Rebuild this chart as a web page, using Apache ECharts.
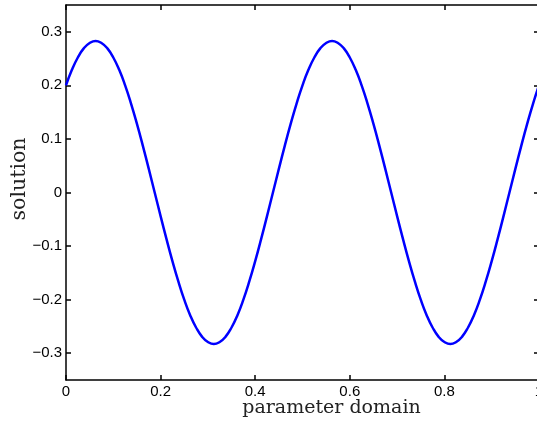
<!DOCTYPE html>
<html lang="en">
<head>
    <meta charset="UTF-8">
    <title>solution</title>
    <style>
        html, body { margin: 0; padding: 0; background: #fff; }
    </style>
</head>
<body>
<script src="https://cdn.jsdelivr.net/npm/echarts@6/dist/echarts.min.js"></script>

<div id="main" style="width: 537px;height:421px;"></div>

<script type="text/javascript">
    // points (x step 0.0125)
    var xs = [];
    for (var i = 0; i <= 80; i++) xs.push(+(i * 0.0125).toFixed(4));
    var ys = [
        0.200, 0.229, 0.252, 0.269, 0.279, 0.283, 0.279, 0.269, 0.252, 0.229,
        0.200, 0.166, 0.128, 0.087, 0.044, 0.000, -0.044, -0.087, -0.128, -0.166,
        -0.200, -0.229, -0.252, -0.269, -0.279, -0.283, -0.279, -0.269, -0.252, -0.229,
        -0.200, -0.166, -0.128, -0.087, -0.044, 0.000, 0.044, 0.087, 0.128, 0.166,
        0.200, 0.229, 0.252, 0.269, 0.279, 0.283, 0.279, 0.269, 0.252, 0.229,
        0.200, 0.166, 0.128, 0.087, 0.044, 0.000, -0.044, -0.087, -0.128, -0.166,
        -0.200, -0.229, -0.252, -0.269, -0.279, -0.283, -0.279, -0.269, -0.252, -0.229,
        -0.200, -0.166, -0.128, -0.087, -0.044, 0.000, 0.044, 0.087, 0.128, 0.166,
        0.200
    ];
    var xTicks = [0, 0.2, 0.4, 0.6, 0.8, 1];
    var yTicks = [-0.3, -0.2, -0.1, 0, 0.1, 0.2, 0.3];

    var data = xs.map(function (x, i) { return [x, ys[i]]; });

    function fmt(v) {
        return String(+v.toFixed(2)).replace('-', '\u2212');
    }

    var labelFont = { fontFamily: 'Liberation Sans', fontSize: 15, color: '#000' };
    var lineStyle = { color: '#000', width: 1.5 };

    var myChart = echarts.init(document.getElementById('main'));
    var option = {
        animation: false,
        grid: { left: 66, top: 5, width: 473, height: 375, containLabel: false, outerBoundsMode: 'none' },
        xAxis: [
            {
                type: 'value', min: 0, max: 1, position: 'bottom',
                name: 'parameter domain', nameLocation: 'middle', nameGap: 19, nameMoveOverlap: false,
                nameTextStyle: { fontFamily: 'DejaVu Serif', fontSize: 19, color: '#222', padding: [0, 0, 0, 58] },
                axisLine: { show: true, onZero: false, lineStyle: lineStyle },
                axisTick: { show: true, inside: true, length: 5, customValues: xTicks, lineStyle: lineStyle },
                axisLabel: Object.assign({ margin: 4, customValues: xTicks, formatter: fmt }, labelFont),
                splitLine: { show: false }
            },
            {
                type: 'value', min: 0, max: 1, position: 'top',
                axisLine: { show: true, onZero: false, lineStyle: lineStyle },
                axisTick: { show: true, inside: true, length: 5, customValues: xTicks, lineStyle: lineStyle },
                axisLabel: { show: false },
                splitLine: { show: false }
            }
        ],
        yAxis: [
            {
                type: 'value', min: -0.35, max: 0.35, position: 'left',
                name: 'solution', nameLocation: 'middle', nameGap: 36, nameMoveOverlap: false,
                nameTextStyle: { fontFamily: 'DejaVu Serif', fontSize: 20.5, color: '#222', padding: [0, 0, 0, 27] },
                axisLine: { show: true, onZero: false, lineStyle: lineStyle },
                axisTick: { show: true, inside: true, length: 5, customValues: yTicks, lineStyle: lineStyle },
                axisLabel: Object.assign({ margin: 4, customValues: yTicks, formatter: fmt }, labelFont),
                splitLine: { show: false }
            },
            {
                type: 'value', min: -0.35, max: 0.35, position: 'right',
                axisLine: { show: true, onZero: false, lineStyle: lineStyle },
                axisTick: { show: true, inside: true, length: 5, customValues: yTicks, lineStyle: lineStyle },
                axisLabel: { show: false },
                splitLine: { show: false }
            }
        ],
        series: [
            {
                type: 'line',
                data: data,
                smooth: true,
                showSymbol: false,
                lineStyle: { color: '#0000ff', width: 2.5 }
            }
        ]
    };
    myChart.setOption(option);
</script>
</body>
</html>
